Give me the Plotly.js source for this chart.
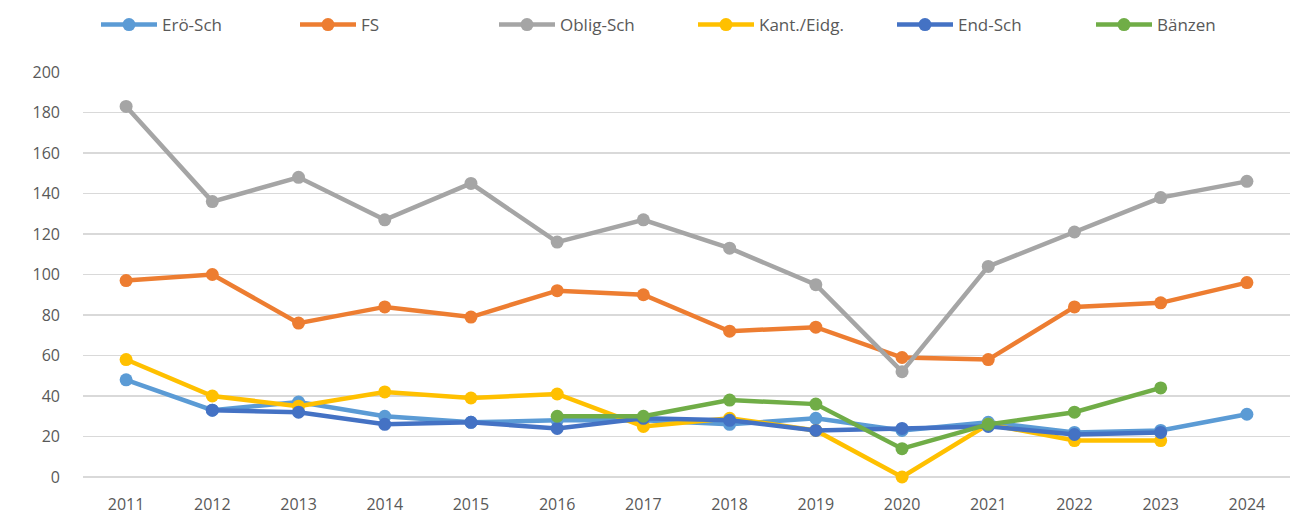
<!DOCTYPE html>
<html>
<head>
<meta charset="utf-8">
<script src="https://cdn.plot.ly/plotly-3.0.1.min.js"></script>
<style>html,body{margin:0;padding:0;background:#fff;}#chart{width:1303px;height:517px;}</style>
</head>
<body>
<div id="chart"></div>
<script>
const years = ["2011","2012","2013","2014","2015","2016","2017","2018","2019","2020","2021","2022","2023","2024"];
const eroSch = [48, 33, 37, 30, 27, 28, 28, 26, 29, 23, 27, 22, 23, 31];
const fs = [97, 100, 76, 84, 79, 92, 90, 72, 74, 59, 58, 84, 86, 96];
const obligSch = [183, 136, 148, 127, 145, 116, 127, 113, 95, 52, 104, 121, 138, 146];
const kantEidg = [58, 40, 35, 42, 39, 41, 25, 29, 23, 0, 26, 18, 18, null];
const endSch = [null, 33, 32, 26, 27, 24, 29, 28, 23, 24, 25, 21, 22, null];
const baenzen = [null, null, null, null, null, 30, 30, 38, 36, 14, 26, 32, 44, null];

const seriesNames = ["Erö-Sch", "FS", "Oblig-Sch", "Kant./Eidg.", "End-Sch", "Bänzen"];
const seriesData = [eroSch, fs, obligSch, kantEidg, endSch, baenzen];
const colors = ["#5B9BD5", "#ED7D31", "#A5A5A5", "#FFC000", "#4472C4", "#70AD47"];

const traces = seriesNames.map((n, i) => ({
  type: "scatter",
  mode: "lines+markers",
  name: n,
  x: years,
  y: seriesData[i],
  connectgaps: false,
  cliponaxis: false,
  line: {color: colors[i], width: 4.5},
  marker: {color: colors[i], size: 13}
}));

const font = "Open Sans, Noto Sans, sans-serif";
const layout = {
  width: 1303, height: 517,
  margin: {l: 83, r: 13, t: 72, b: 40},
  paper_bgcolor: "#fff", plot_bgcolor: "#fff",
  font: {family: font, size: 16, color: "#595959"},
  showlegend: true,
  legend: {
    orientation: "h", x: 96/1303, xanchor: "left", xref: "container",
    y: 1 - 25/517, yanchor: "middle", yref: "container",
    font: {family: font, size: 17, color: "#595959"},
    itemwidth: 56, entrywidth: 128, entrywidthmode: "pixels", traceorder: "normal"
  },
  xaxis: {
    type: "category", range: [-0.5, 13.5],
    showgrid: false, zeroline: false, showline: false,
    ticks: "outside", ticklen: 13, tickcolor: "rgba(0,0,0,0)",
    tickfont: {family: font, size: 16, color: "#595959"}
  },
  yaxis: {
    range: [0, 200], dtick: 20, tick0: 0,
    showgrid: true, gridcolor: "#D9D9D9", gridwidth: 1.5,
    zeroline: true, zerolinecolor: "#D9D9D9", zerolinewidth: 1.5,
    showline: false, ticklabelstandoff: 22,
    tickfont: {family: font, size: 16, color: "#595959"}
  }
};

Plotly.newPlot("chart", traces, layout, {displayModeBar: false, staticPlot: true});
</script>
</body>
</html>
